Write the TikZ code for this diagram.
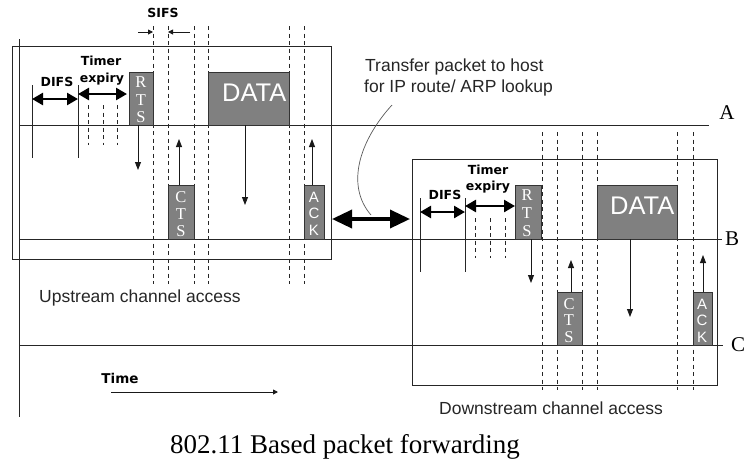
\documentclass[tikz,border=0pt]{standalone}
\usepackage{fontspec}
\setmainfont{Liberation Serif}
\setsansfont{Liberation Sans}
\newfontfamily\boldlab{DejaVu Sans}
\usetikzlibrary{arrows.meta}
\begin{document}
\begin{tikzpicture}[x=1pt,y=-1pt,
 ln/.style={line width=0.9pt, draw=black!85},
 dsh/.style={line width=0.9pt, draw=black!85, dash pattern=on 4pt off 3.5pt},
 msg/.style={draw=black!80, fill=black!50, line width=0.9pt, inner sep=0pt, outer sep=0pt, anchor=north west},
 sig/.style={line width=0.9pt, draw=black!90, -{Triangle[length=8pt,width=6pt]}},
 tiny/.style={line width=0.9pt, draw=black!90, -{Triangle[length=5pt,width=5pt]}},
 dbl/.style={line width=2.5pt, {Triangle[length=11pt,width=12pt]}-{Triangle[length=11pt,width=12pt]}},
 big/.style={line width=3.5pt, {Triangle[length=20pt,width=18pt]}-{Triangle[length=20pt,width=18pt]}},
 lab/.style={font=\boldlab\bfseries\fontsize{12.5}{14}\selectfont, inner sep=0pt},
 txt/.style={font=\sffamily\fontsize{17.5}{20}\selectfont, inner sep=0pt, text=black!85},
 rlet/.style={text=white, font=\fontsize{16.5}{16}\selectfont, inner sep=0pt},
 slet/.style={text=white, font=\sffamily\fontsize{15}{15}\selectfont, inner sep=0pt},
 dlab/.style={text=white, font=\sffamily\fontsize{25.5}{26}\selectfont, inner sep=0pt, anchor=west},
 chan/.style={font=\fontsize{21}{21}\selectfont, inner sep=0pt}
]
\useasboundingbox (0,0) rectangle (748,459);

% channel access boxes
\draw[ln] (12,46) rectangle (331,259);
\draw[ln] (412,159) rectangle (717,385);

% time axis and station lines
\draw[ln] (19,39) -- (19,417);
\draw[ln] (19,125) -- (709,125);
\draw[ln] (19,239) -- (722,239);
\draw[ln] (19,345) -- (723,345);
\node[chan] (labA) at (727,113) {A};
\node[chan, anchor=west] (labB) at (725,239) {B};
\node[chan, anchor=west] (labC) at (731,345) {C};

% ---------- upstream ----------
\draw[ln] (32,85) -- (32,158);
\draw[ln] (78,85) -- (78,158);
\draw[dbl] (32,99) -- (78,99);
\draw[dbl] (78,94) -- (127,94);
\foreach \x in {88,103,117} \draw[dsh] (\x,105) -- (\x,145);
\node[lab] (difs1) at (57,82) {DIFS};
\node[lab] (timer1) at (101,61) {Timer};
\node[lab] (exp1) at (102,79) {expiry};
\foreach \x in {153,168,194,208,289,304} \draw[dsh] (\x,26) -- (\x,284);
\node[lab] (sifs) at (163,13) {SIFS};
\draw[tiny] (138,32) -- (153,32);
\draw[tiny] (190,32) -- (168,32);

\node[msg, minimum width=24pt, minimum height=53pt] (rts1) at (129,72) {};
\node[msg, minimum width=26pt, minimum height=54pt] (cts1) at (168,185) {};
\node[msg, minimum width=81pt, minimum height=53pt] (data1) at (208,72) {};
\node[msg, minimum width=20pt, minimum height=54pt] (ack1) at (304,185) {};
\node[rlet] at (141,82) {R};
\node[rlet] at (141,100) {T};
\node[rlet] at (141,117) {S};
\node[rlet] at (181,197) {C};
\node[rlet] at (181,214) {T};
\node[rlet] at (181,231) {S};
\node[slet] at (314,197) {A};
\node[slet] at (314,213) {C};
\node[slet] at (314,230) {K};
\node[dlab] at (222,93) {DATA};
\draw[sig] (138,125) -- (138,170);
\draw[sig] (179,185) -- (179,139);
\draw[sig] (245,125) -- (245,205);
\draw[sig] (312,185) -- (312,139);

% ---------- downstream ----------
\draw[ln] (420,198) -- (420,272);
\draw[ln] (465,198) -- (465,272);
\draw[dbl] (420,212) -- (465,212);
\draw[dbl] (465,206) -- (515,206);
\foreach \x in {475,490,505} \draw[dsh] (\x,218) -- (\x,258);
\node[lab] (difs2) at (445,195) {DIFS};
\node[lab] (timer2) at (488,170) {Timer};
\node[lab] (exp2) at (488,187) {expiry};
\foreach \x in {542,557,582,597,677,693} \draw[dsh] (\x,132) -- (\x,390);

\node[msg, minimum width=26pt, minimum height=54pt] (rts2) at (515,185) {};
\node[msg, minimum width=25pt, minimum height=53pt] (cts2) at (557,292) {};
\node[msg, minimum width=80pt, minimum height=54pt] (data2) at (597,185) {};
\node[msg, minimum width=19pt, minimum height=53pt] (ack2) at (693,292) {};
\node[rlet] at (527,195) {R};
\node[rlet] at (527,213) {T};
\node[rlet] at (527,231) {S};
\node[rlet] at (569,304) {C};
\node[rlet] at (569,320) {T};
\node[rlet] at (569,337) {S};
\node[slet] at (702,304) {A};
\node[slet] at (702,320) {C};
\node[slet] at (702,337) {K};
\node[dlab] at (610,206) {DATA};
\draw[sig] (531,239) -- (531,283);
\draw[sig] (571,292) -- (571,260);
\draw[sig] (630,239) -- (630,317);
\draw[sig] (703,292) -- (703,255);

% ---------- transfer ----------
\draw[big] (332,219) -- (410,219);
\draw[line width=0.7pt, draw=black!65] (392,105) .. controls (360,140) and (345,185) .. (371,215);
\node[txt, anchor=west] (tr1) at (365,67) {Transfer packet to host};
\node[txt, anchor=west] (tr2) at (364,88) {for IP route/ ARP lookup};

\node[txt, anchor=west] (up) at (39,298) {Upstream channel access};
\node[txt, anchor=west] (down) at (439,408) {Downstream channel access};

\node[lab, font=\boldlab\bfseries\fontsize{13.5}{15}\selectfont] (time) at (120,378) {Time};
\draw[tiny] (111,392) -- (278,392);

\node[font=\fontsize{27}{30}\selectfont, inner sep=0pt] (caption) at (345,447) {802.11 Based packet forwarding};
\end{tikzpicture}
\end{document}
